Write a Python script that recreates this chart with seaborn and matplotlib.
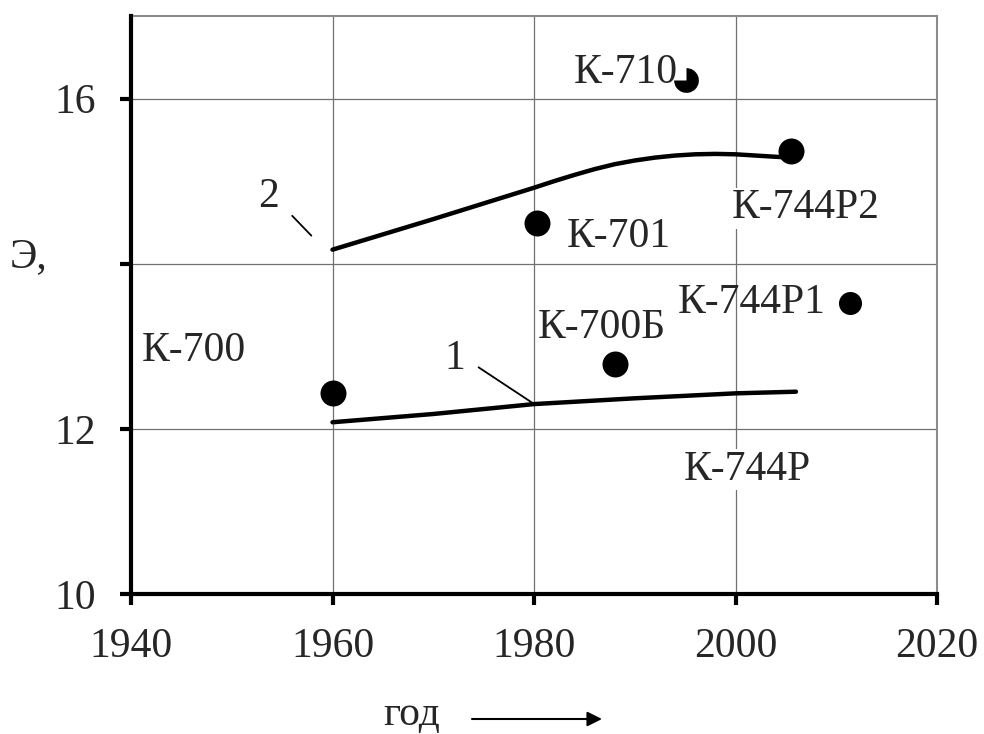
import numpy as np
import pandas as pd
import matplotlib
matplotlib.use("Agg")
import matplotlib.pyplot as plt
from matplotlib.path import Path
import seaborn as sns

# ---- data ----
models = ["К-700", "К-701", "К-700Б", "К-710", "К-744Р2", "К-744Р1"]
model_year = [1960.0, 1980.3, 1988.0, 1995.1, 2005.5, 2011.4]
model_E = [12.43, 14.49, 12.78, 16.22, 15.36, 13.53]

curve1_year = [1960, 1970, 1980, 1990, 2000, 2006]
curve1_E = [12.08, 12.18, 12.30, 12.37, 12.43, 12.45]

curve2_year = [1960, 1965, 1970, 1975, 1980, 1982, 1984, 1986, 1988, 1990,
               1992, 1994, 1996, 1998, 2000, 2002, 2004, 2005.5]
curve2_E = [14.17, 14.355, 14.54, 14.73, 14.92, 15.00, 15.075, 15.145, 15.205, 15.25,
            15.285, 15.31, 15.325, 15.33, 15.325, 15.31, 15.295, 15.285]

label_text = ["К-700", "К-700Б", "К-701", "К-710", "К-744Р2", "К-744Р1", "К-744Р"]
label_x = [1941.1, 1980.4, 1983.3, 1983.9, 1999.6, 1994.3, 1994.9]
label_y = [12.82, 13.10, 14.20, 16.19, 14.55, 13.40, 11.38]

curve_num = ["2", "1"]
curve_num_x = [1953.6, 1972.1]
curve_num_y = [14.69, 12.73]
leader2_x = [1956.0, 1957.9]
leader2_y = [14.58, 14.34]
leader1_x = [1974.5, 1979.9]
leader1_y = [12.745, 12.31]

x_ticks = [1940, 1960, 1980, 2000, 2020]
y_ticks = [10, 12, 14, 16]
y_ticklabels = ["10", "12", "", "16"]

# ---- style ----
sns.set_style("white")
plt.rcParams["font.family"] = ["Liberation Serif", "DejaVu Serif"]
FS = 30

fig = plt.figure(figsize=(9.84, 7.34), dpi=100)
ax = fig.add_axes([131/984, (734-594)/734, (937-131)/984, (594-16)/734])

df1 = pd.DataFrame({"year": curve1_year, "E": curve1_E})
df2 = pd.DataFrame({"year": curve2_year, "E": curve2_E})
sns.lineplot(data=df1, x="year", y="E", ax=ax, color="black", lw=3.2,
             solid_capstyle="round", solid_joinstyle="round", zorder=4, sort=False)
sns.lineplot(data=df2, x="year", y="E", ax=ax, color="black", lw=3.2,
             solid_capstyle="round", solid_joinstyle="round", zorder=4, sort=False)

dfp = pd.DataFrame({"model": models, "year": model_year, "E": model_E})
normal = dfp[dfp["model"].isin(["К-700", "К-701", "К-700Б", "К-744Р2"])]
sns.scatterplot(data=normal, x="year", y="E", ax=ax, color="black", s=350,
                linewidth=0, zorder=5)
sns.scatterplot(data=dfp[dfp["model"] == "К-744Р1"], x="year", y="E", ax=ax,
                color="black", s=275, linewidth=0, zorder=5)
wedge = Path.wedge(-180, 90)
sns.scatterplot(data=dfp[dfp["model"] == "К-710"], x="year", y="E", ax=ax,
                color="black", s=330, linewidth=0, marker=wedge, zorder=5)

# leader lines
ax.plot(leader2_x, leader2_y, color="black", lw=1.3, zorder=4)
ax.plot(leader1_x, leader1_y, color="black", lw=1.3, zorder=4)

for t, x, y in zip(label_text, label_x, label_y):
    kw = {}
    if t in ("К-744Р", "К-744Р2"):
        kw["bbox"] = dict(facecolor="white", edgecolor="none", pad=1)
    ax.text(x, y, t, fontsize=FS, ha="left", va="baseline", zorder=3, **kw)
for t, x, y in zip(curve_num, curve_num_x, curve_num_y):
    ax.text(x, y, t, fontsize=FS, ha="center", va="baseline", zorder=3)

ax.set_xlim(1940, 2020)
ax.set_ylim(10, 17)
ax.set_xticks(x_ticks)
ax.set_xticklabels([str(v) for v in x_ticks])
ax.set_yticks(y_ticks)
ax.set_yticklabels(y_ticklabels)
ax.tick_params(axis="x", bottom=True, top=False, direction="out", length=8, width=3,
               pad=16, labelsize=FS, color="black")
ax.tick_params(axis="y", left=True, right=False, direction="out", length=8, width=3,
               pad=17, labelsize=FS, color="black")
ax.grid(True, color="#707070", lw=0.9)
ax.set_axisbelow(True)

for s in ("left", "bottom"):
    ax.spines[s].set_color("black")
    ax.spines[s].set_linewidth(3)
    ax.spines[s].set_zorder(6)
for s in ("top", "right"):
    ax.spines[s].set_visible(True)
    ax.spines[s].set_color("#8c8c8c")
    ax.spines[s].set_linewidth(1.5)

ax.set_ylabel("Э,", fontsize=FS, rotation=0, ha="left", va="baseline")
ax.yaxis.set_label_coords((10-131)/806, (594-267)/578)
ax.set_xlabel("год", fontsize=FS, ha="right", va="baseline")
ax.xaxis.set_label_coords((440-131)/806, (594-725)/578)

ax.annotate("", xy=((602-131)/806, (594-719)/578), xytext=((472-131)/806, (594-719)/578),
            xycoords="axes fraction", textcoords="axes fraction",
            arrowprops=dict(arrowstyle="-|>", color="black", lw=1.5,
                            mutation_scale=22, shrinkA=0, shrinkB=0),
            annotation_clip=False)

fig.savefig("out.png", dpi=100)
